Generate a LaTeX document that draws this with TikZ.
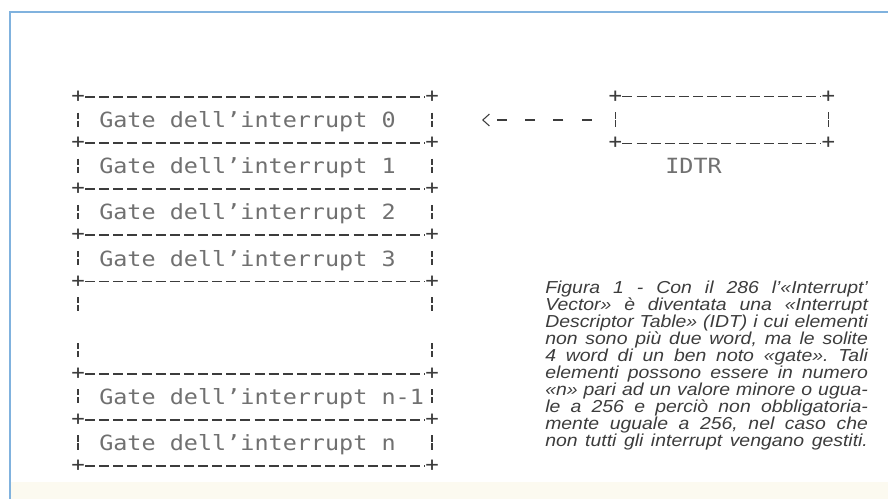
\documentclass[tikz,border=0pt]{standalone}
\usepackage{fontspec}
\setmainfont{Liberation Sans}
\newfontfamily\dotfont[FakeStretch=1.12]{DejaVu Sans Mono}
\newfontfamily\capfont[FakeStretch=1.12]{Liberation Sans}
\usetikzlibrary{arrows.meta, positioning}

\definecolor{frameblue}{RGB}{128,178,222}
\definecolor{ink}{RGB}{60,60,60}
\definecolor{dotgray}{RGB}{112,112,112}
\definecolor{cream}{RGB}{252,250,240}

\tikzset{
  gate/.style={anchor=base west, inner sep=0pt, text=dotgray,
    font=\dotfont\fontsize{15.7pt}{16pt}\selectfont},
  corner/.style={inner sep=0pt, text=ink,
    font=\dotfont\fontsize{15pt}{15pt}\selectfont},
  rule/.style={ink, line width=0.8pt, dash pattern=on 7.5pt off 3.1pt},
  bar/.style={ink, line width=0.8pt, dash pattern=on 4.6pt off 1.4pt},
  pointer/.style={ink, line width=0.8pt, dash pattern=on 7.5pt off 13.7pt,
    -{Straight Barb[length=5pt, width=9pt]}},
  caption/.style={anchor=north west, inner sep=0pt, text=ink, align=justify,
    text width=242pt, font=\capfont\itshape\fontsize{13pt}{12.8pt}\selectfont},
}

\begin{document}
\begin{tikzpicture}[x=0.75pt, y=-0.75pt]
\useasboundingbox (0,0) rectangle (888,499);

% frame
\fill[cream] (11,482) rectangle (888,499);
\draw[frameblue, line width=1.4pt] (10,499) -- (10,12) -- (888,12);

% table corners
\node[corner] (L0) at (78,97) {+};
\node[corner] (R0) at (432,97) {+};
\node[corner] (L1) at (78,143) {+};
\node[corner] (R1) at (432,143) {+};
\node[corner] (L2) at (78,189) {+};
\node[corner] (R2) at (432,189) {+};
\node[corner] (L3) at (78,235) {+};
\node[corner] (R3) at (432,235) {+};
\node[corner] (L4) at (78,281.5) {+};
\node[corner] (R4) at (432,281.5) {+};
\node[corner] (L5) at (78,374) {+};
\node[corner] (R5) at (432,374) {+};
\node[corner] (L6) at (78,420) {+};
\node[corner] (R6) at (432,420) {+};
\node[corner] (L7) at (78,466) {+};
\node[corner] (R7) at (432,466) {+};

% gates
\node[gate] (G0) at (99,127.6) {Gate dell’interrupt 0};
\node[gate] (G1) at (99,173.7) {Gate dell’interrupt 1};
\node[gate] (G2) at (99,219.8) {Gate dell’interrupt 2};
\node[gate] (G3) at (99,266) {Gate dell’interrupt 3};
\node[gate] (Gn1) at (99,404.3) {Gate dell’interrupt n-1};
\node[gate] (Gn) at (99,450.4) {Gate dell’interrupt n};

% IDTR register
\node[inner sep=0pt, minimum width=159.2pt, minimum height=34.5pt] (reg) at (721.85,120) {};
\node[corner] (P0) at (reg.north west) {+};
\node[corner] (P1) at (reg.north east) {+};
\node[corner] (P2) at (reg.south west) {+};
\node[corner] (P3) at (reg.south east) {+};
\node[gate] (IDTR) at (665,173.7) {IDTR};

% rules
\draw[rule] (L0) -- (R0);
\draw[rule] (L1) -- (R1);
\draw[rule] (L2) -- (R2);
\draw[rule] (L3) -- (R3);
\draw[rule] (L4) -- (R4);
\draw[rule] (L5) -- (R5);
\draw[rule] (L6) -- (R6);
\draw[rule] (L7) -- (R7);
\draw[rule] (P0) -- (P1);
\draw[rule] (P2) -- (P3);

% side bars
\draw[bar] (78,112.6) -- (78,127.6) (432,112.6) -- (432,127.6);
\draw[bar] (78,158.7) -- (78,173.7) (432,158.7) -- (432,173.7);
\draw[bar] (78,204.8) -- (78,219.8) (432,204.8) -- (432,219.8);
\draw[bar] (78,251) -- (78,266) (432,251) -- (432,266);
\draw[bar] (78,297.1) -- (78,312.1) (432,297.1) -- (432,312.1);
\draw[bar] (78,343.2) -- (78,358.2) (432,343.2) -- (432,358.2);
\draw[bar] (78,389.3) -- (78,404.3) (432,389.3) -- (432,404.3);
\draw[bar] (78,435.4) -- (78,450.4) (432,435.4) -- (432,450.4);
\draw[bar] (reg.west) ++(0,-7.5) -- ++(0,15);
\draw[bar] (reg.east) ++(0,-7.5) -- ++(0,15);

% arrow
\coordinate (tip) at (482,120);
\draw[pointer] ([xshift=-17.8pt]reg.west) -- (tip);

% caption
\node[caption] (cap) at (545,280.5) {\frenchspacing\parfillskip=0pt
\lineskiplimit=-20pt\baselineskip=12.8pt
Figura 1 - Con il 286 l’«Interrupt’\linebreak
Vector» è diventata una «Interrupt\linebreak
Descriptor Table» (IDT) i cui elementi\linebreak
non sono più due word, ma le solite\linebreak
4 word di un ben noto «gate». Tali\linebreak
elementi possono essere in numero\linebreak
«n» pari ad un valore minore o ugua-\linebreak
le a 256 e perciò non obbligatoria-\linebreak
mente uguale a 256, nel caso che\linebreak
non tutti gli interrupt vengano gestiti.\par};

\end{tikzpicture}
\end{document}
